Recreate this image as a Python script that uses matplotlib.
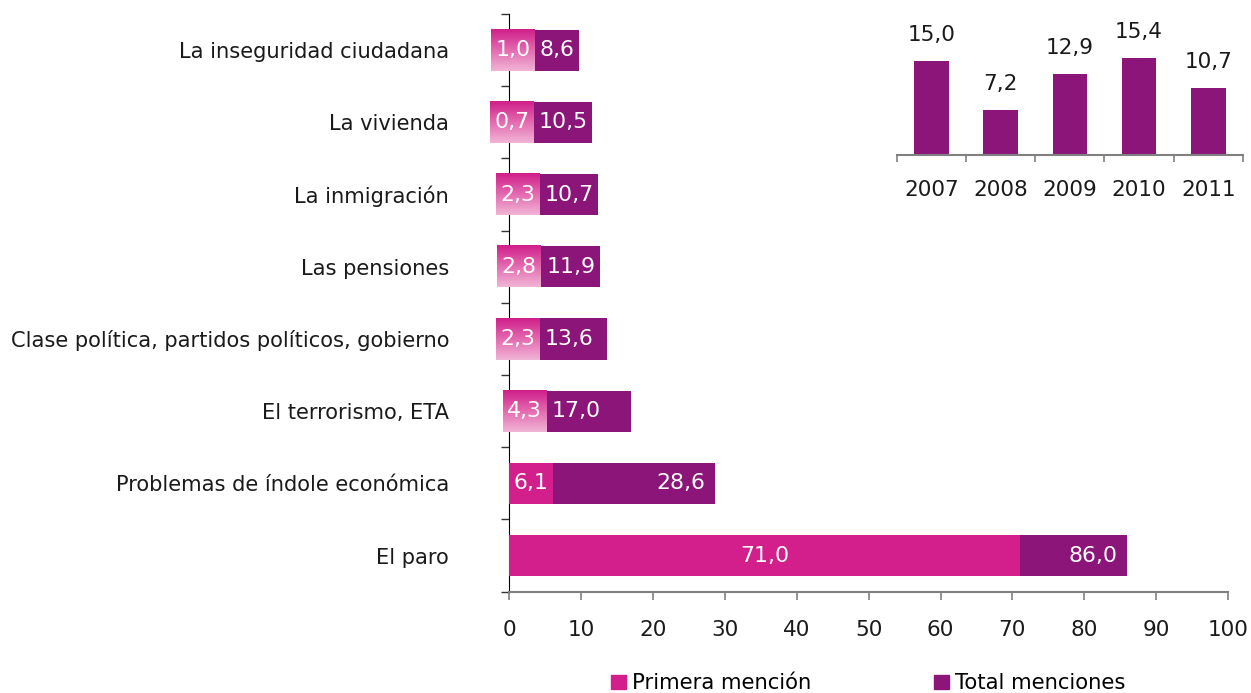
import matplotlib
matplotlib.use('Agg')
import matplotlib.pyplot as plt
import numpy as np
from matplotlib.colors import LinearSegmentedColormap
from matplotlib.patches import Patch

plt.rcParams['font.family'] = ['DejaVu Sans']

# Datos del gráfico principal (de arriba a abajo)
categorias = ['La inseguridad ciudadana', 'La vivienda', 'La inmigración',
              'Las pensiones', 'Clase política, partidos políticos, gobierno',
              'El terrorismo, ETA', 'Problemas de índole económica', 'El paro']
primera = [1.0, 0.7, 2.3, 2.8, 2.3, 4.3, 6.1, 71.0]
total = [8.6, 10.5, 10.7, 11.9, 13.6, 17.0, 28.6, 86.0]

# Datos del gráfico pequeño
anios = ['2007', '2008', '2009', '2010', '2011']
valores_anio = [15.0, 7.2, 12.9, 15.4, 10.7]

ROSA = '#D21F8C'
MORADO = '#8B1579'
GRIS = '#808080'
TEXTO = '#1a1a1a'


def fmt(v):
    return f'{v:.1f}'.replace('.', ',')


fig = plt.figure(figsize=(12.51, 6.93), dpi=100)
ax = fig.add_axes([0.4071, 0.1462, 0.5745, 0.8336])

y = np.arange(len(categorias))
alto = 0.57
ax.barh(y, total, height=alto, color=MORADO, zorder=2)
ax.barh(y, primera, height=alto, color=ROSA, zorder=3)
ax.set_xlim(0, 100)
ax.set_ylim(len(categorias) - 0.5, -0.5)

# degradado para las etiquetas de valores pequeños
cmap = LinearSegmentedColormap.from_list('rosa', ['#D01F8B', '#E46AB0', '#F0B4D6'])
grad = np.linspace(0, 1, 64).reshape(-1, 1)
renderer = fig.canvas.get_renderer()
tam = 15.8

for i, (p, t) in enumerate(zip(primera, total)):
    if p < 5:
        c = p / 2
        x0, x1 = c - 3.05, c + 3.05
        im = ax.imshow(grad, extent=[x0, x1, i + alto / 2, i - alto / 2],
                       cmap=cmap, aspect='auto', origin='upper', zorder=5)
        im.set_clip_on(False)
        ax.text(c, i, fmt(p), ha='center', va='center', color='white',
                fontsize=tam, zorder=6, clip_on=False)
        txt = ax.annotate(fmt(t), (x1, i), xytext=(3.5, 0), textcoords='offset points',
                          ha='left', va='center', color='white', fontsize=tam, zorder=6)
        # caja morada que cubre la etiqueta si sobresale de la barra
        bb = txt.get_window_extent(renderer).transformed(ax.transData.inverted())
        fin = max(t, bb.x1 + 0.65)
        ax.barh(i, fin - x1, left=x1, height=alto, color=MORADO, zorder=4)
    else:
        ax.text(p / 2, i, fmt(p), ha='center', va='center', color='white',
                fontsize=tam, zorder=6)
        ax.annotate(fmt(t), (t, i), xytext=(-7, 0), textcoords='offset points',
                    ha='right', va='center', color='white', fontsize=tam, zorder=6)

ax.set_xlim(0, 100)
ax.set_ylim(len(categorias) - 0.5, -0.5)

ax.set_yticks(np.arange(-0.5, len(categorias)))
ax.set_yticklabels([])
ax.set_yticks(y, minor=True)
ax.set_yticklabels(categorias, minor=True, fontsize=15.1, color=TEXTO)
ax.tick_params(axis='y', which='major', length=5.8, width=1, color='#333333')
ax.tick_params(axis='y', which='minor', length=0, pad=43.4)

ax.set_xticks(np.arange(0, 101, 10))
ax.tick_params(axis='x', length=5.5, width=1.2, color=GRIS, labelsize=15.5,
               labelcolor=TEXTO, pad=15)

ax.spines['top'].set_visible(False)
ax.spines['right'].set_visible(False)
ax.spines['left'].set_color('black')
ax.spines['bottom'].set_color(GRIS)
ax.spines['bottom'].set_linewidth(1.5)

# Gráfico pequeño por años
ax2 = fig.add_axes([0.7168, 0.7763, 0.2768, 0.181])
xs = np.arange(len(anios))
ax2.bar(xs, valores_anio, width=0.5, color=MORADO)
for xi, v in zip(xs, valores_anio):
    ax2.annotate(fmt(v), (xi, v), xytext=(0, 11.5), textcoords='offset points',
                 ha='center', va='bottom', fontsize=15.5, color=TEXTO)
ax2.set_xlim(-0.5, len(anios) - 0.5)
ax2.set_ylim(0, 20)
ax2.set_yticks([])
ax2.set_xticks(np.arange(-0.5, len(anios)))
ax2.set_xticklabels([])
ax2.set_xticks(xs, minor=True)
ax2.set_xticklabels(anios, minor=True, fontsize=15.5, color=TEXTO)
ax2.tick_params(axis='x', which='major', length=5, width=1.2, color=GRIS)
ax2.tick_params(axis='x', which='minor', length=0, pad=18)
for s in ['top', 'right', 'left']:
    ax2.spines[s].set_visible(False)
ax2.spines['bottom'].set_color(GRIS)
ax2.spines['bottom'].set_linewidth(1.5)
ax2.patch.set_alpha(0)

fig.legend(handles=[Patch(color=ROSA, label='Primera mención'),
                    Patch(color=MORADO, label='Total menciones')],
           loc='center', bbox_to_anchor=(0.694, 0.014), ncol=2, frameon=False,
           fontsize=15.2, handlelength=0.7, handleheight=0.7, handletextpad=0.3,
           columnspacing=5.8)

fig.savefig('out.png', dpi=100)
